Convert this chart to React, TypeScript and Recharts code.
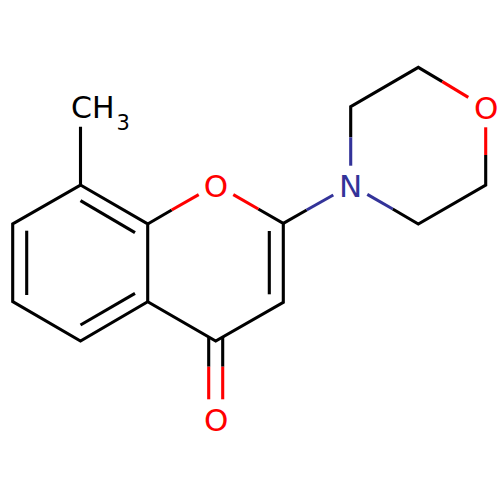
import React from "react";
import { ComposedChart, Line, Scatter, XAxis, YAxis } from "recharts";

type P = { x: number; y: number };
const pts = (...v: number[]): P[] => {
  const out: P[] = [];
  for (let i = 0; i < v.length; i += 2) out.push({ x: v[i], y: v[i + 1] });
  return out;
};

const BLACK = "#000000";
const RED = "#FF0000";
const BLUE = "#333399";

const blackBonds: P[][] = [
  pts(80.5, 126.7, 80.5, 185, 12.7, 224, 12.7, 301.7, 80.5, 341, 147.7, 301.7, 215.7, 341, 283.3, 302.3, 283.3, 223.3, 258.3, 209),
  pts(80.5, 185, 147.7, 224, 147.7, 301.7),
  pts(147.7, 224, 171.7, 210),
  pts(80.5, 200.7, 135, 232.7),
  pts(26.7, 230.7, 26.7, 295),
  pts(80.5, 325, 135, 293.3),
  pts(269.3, 231, 269.3, 294.3),
  pts(283.3, 223.3, 306.7, 210),
  pts(350.7, 137.3, 350.7, 106.7, 418.3, 67.3, 442.3, 81.7),
  pts(485.7, 155, 485.7, 185, 418.3, 224, 392.7, 209),
  pts(208.7, 337, 208.7, 366.7),
  pts(222.7, 337, 222.7, 366.7),
];
const redBonds: P[][] = [
  pts(171.7, 210, 198.7, 194.7),
  pts(233.3, 194.7, 258.3, 209),
  pts(442.3, 81.7, 468.3, 97.3),
  pts(485.7, 127.3, 485.7, 155),
  pts(208.7, 366.7, 208.7, 399.3),
  pts(222.7, 366.7, 222.7, 399.3),
];
const blueBonds: P[][] = [
  pts(306.7, 210, 333.3, 195),
  pts(350.7, 165.7, 350.7, 137.3),
  pts(392.7, 209, 367.3, 194.3),
];

const atomLabels = [
  { x: 216, y: 186, text: "O", color: RED },
  { x: 216.3, y: 420, text: "O", color: RED },
  { x: 486.3, y: 107.7, text: "O", color: RED },
  { x: 350.7, y: 185.7, text: "N", color: BLUE },
];
const methylLabel = [{ x: 71, y: 118.3, text: "CH", sub: "3", color: BLACK }];

const FONT = "'DejaVu Sans', sans-serif";

const AtomShape = (props: any) => {
  const { cx, cy, payload } = props;
  return (
    <text x={cx} y={cy + 11} textAnchor="middle" fontFamily={FONT} fontSize={31} fill={payload.color}>
      {payload.text}
    </text>
  );
};
const MethylShape = (props: any) => {
  const { cx, cy, payload } = props;
  return (
    <text x={cx} y={cy} fontFamily={FONT} fontSize={30} fill={payload.color}>
      {payload.text}
      <tspan fontSize={21} dx={2} dy={11.7}>{payload.sub}</tspan>
    </text>
  );
};

const renderBonds = (bonds: P[][], color: string, name: string) =>
  bonds.map((data, i) => (
    <Line
      key={`${name}-${i}`}
      data={data}
      dataKey="y"
      type="linear"
      stroke={color}
      strokeWidth={3.1}
      strokeLinejoin="miter"
      strokeLinecap="butt"
      dot={false}
      activeDot={false}
      legendType="none"
      isAnimationActive={false}
    />
  ));

export default function App() {
  return (
    <div style={{ position: "absolute", left: 0, top: 0, width: 500, height: 500 }}>
      <ComposedChart width={500} height={500} margin={{ top: 0, right: 0, bottom: 0, left: 0 }}>
        <XAxis type="number" dataKey="x" domain={[0, 500]} hide allowDuplicatedCategory />
        <YAxis type="number" dataKey="y" domain={[0, 500]} reversed hide />
        {renderBonds(blackBonds, BLACK, "black")}
        {renderBonds(redBonds, RED, "red")}
        {renderBonds(blueBonds, BLUE, "blue")}
        <Scatter data={atomLabels} dataKey="y" shape={AtomShape} isAnimationActive={false} />
        <Scatter data={methylLabel} dataKey="y" shape={MethylShape} isAnimationActive={false} />
      </ComposedChart>
    </div>
  );
}
